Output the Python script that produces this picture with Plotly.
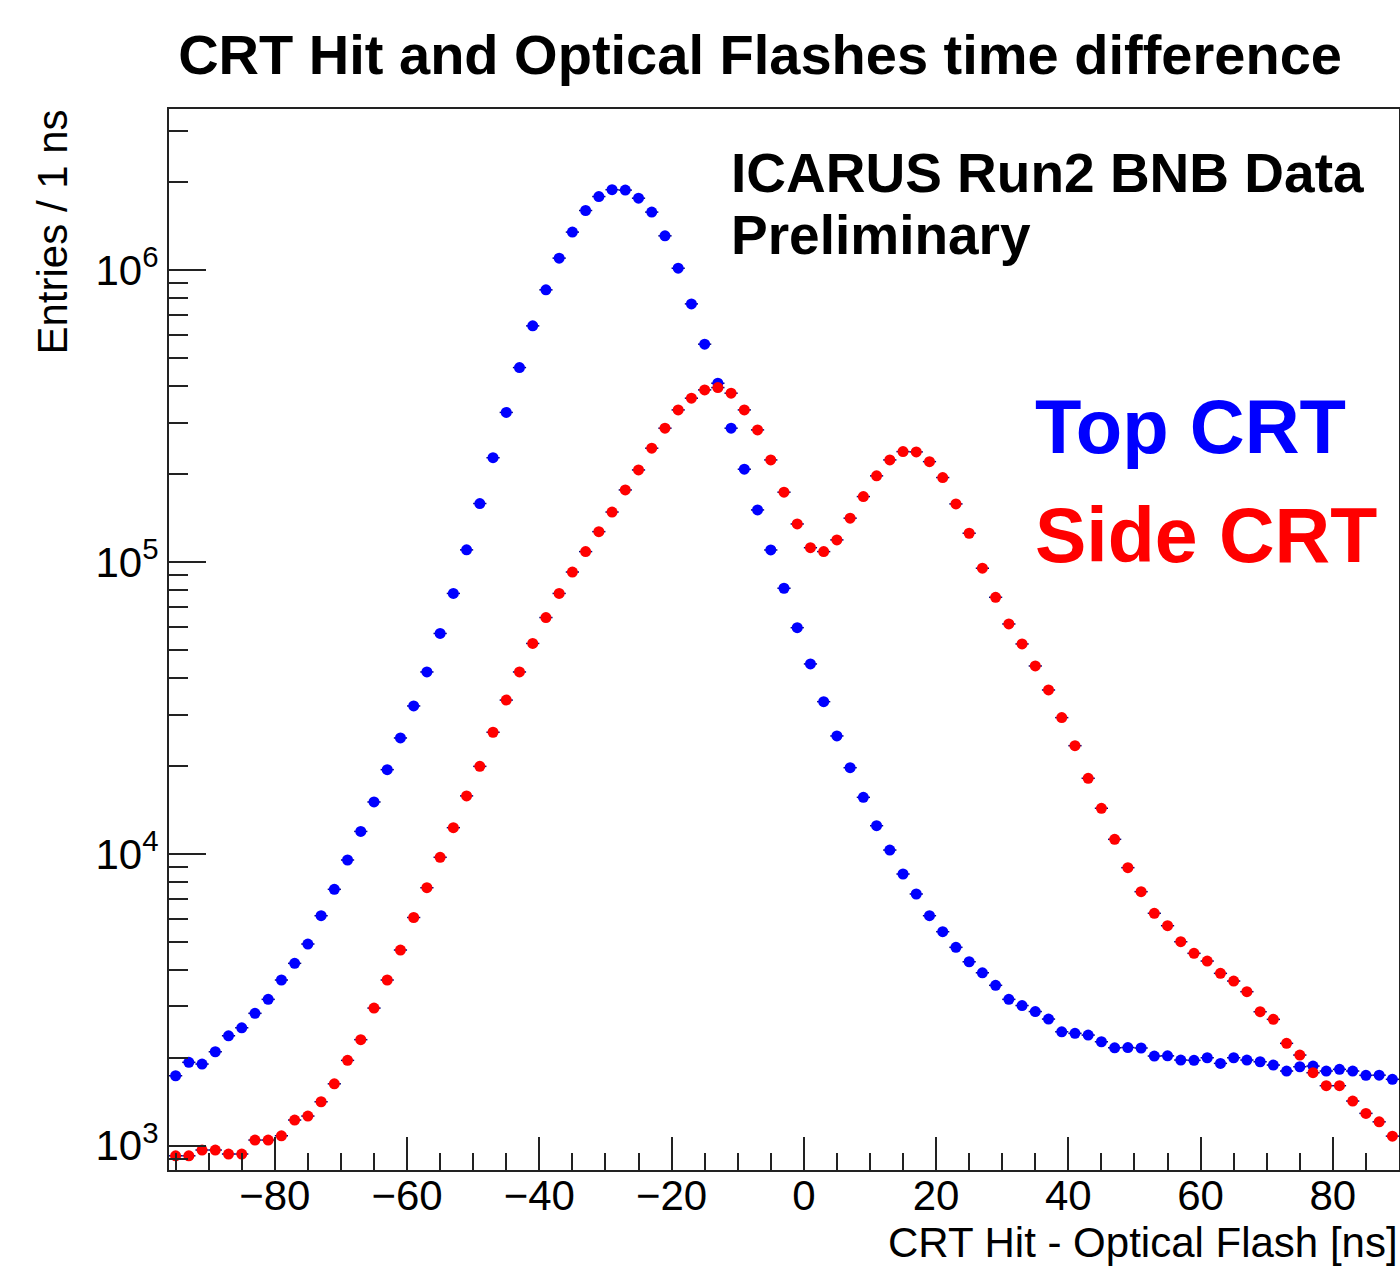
import plotly.graph_objects as go

# Bin centres (2 ns bins) in ns
bin_centers = [-95, -93, -91, -89, -87, -85, -83, -81, -79, -77, -75, -73, -71, -69, -67, -65,
               -63, -61, -59, -57, -55, -53, -51, -49, -47, -45, -43, -41, -39, -37, -35, -33,
               -31, -29, -27, -25, -23, -21, -19, -17, -15, -13, -11, -9, -7, -5, -3, -1,
               1, 3, 5, 7, 9, 11, 13, 15, 17, 19, 21, 23, 25, 27, 29, 31, 33, 35, 37, 39, 41,
               43, 45, 47, 49, 51, 53, 55, 57, 59, 61, 63, 65, 67, 69, 71, 73, 75, 77, 79, 81,
               83, 85, 87, 89]

top_crt = [1737, 1931, 1905, 2099, 2381, 2536, 2842, 3173, 3696, 4215, 4909, 6137, 7557, 9524,
           11930, 15050, 19420, 24930, 32090, 41960, 56840, 77940, 109900, 158400, 227300,
           324900, 462800, 643000, 854300, 1097000, 1347000, 1597000, 1783000, 1882000,
           1876000, 1760000, 1577000, 1308000, 1013000, 764700, 556600, 409000, 286900,
           207600, 150600, 109800, 81200, 59500,
           44700, 33200, 25330, 19720, 15610, 12480, 10300, 8527, 7284, 6137, 5410, 4783,
           4268, 3913, 3544, 3173, 3022, 2882, 2716, 2457, 2427, 2394, 2271, 2166, 2170,
           2162, 2029, 2032, 1966, 1962, 2002, 1915, 2002, 1966, 1940, 1890, 1803, 1865,
           1875, 1803, 1827, 1803, 1743, 1745, 1689]

side_crt = [924, 924, 967, 967, 937, 937, 1046, 1046, 1082, 1225, 1264, 1415, 1630, 1961, 2309,
            2962, 3696, 4682, 6051, 7653, 9728, 12290, 15790, 19930, 26080, 33610, 41960,
            52530, 64450, 77940, 92280, 108400, 126900, 148100, 176300, 206400, 245000,
            286900, 331400, 363500, 388100, 395200, 378100, 331400, 283100, 223400, 173200,
            134800,
            111800, 108400, 118900, 141100, 167300, 197000, 223400, 238500, 238000, 220400,
            194400, 157900, 125300, 95080, 75610, 61260, 52330, 43990, 36400, 29270, 23460,
            18140, 14320, 11210, 8965, 7418, 6255, 5672, 4999, 4561, 4292, 3895, 3666, 3371,
            2878, 2710, 2243, 2045, 1779, 1606, 1606, 1423, 1291, 1208, 1079]

x_major_ticks = [-80, -60, -40, -20, 0, 20, 40, 60, 80]
y_major_ticks = [1e3, 1e4, 1e5, 1e6]
y_major_text = ["10<sup>3</sup>", "10<sup>4</sup>", "10<sup>5</sup>", "10<sup>6</sup>"]
y_minor_ticks = [900, 2e3, 3e3, 4e3, 5e3, 6e3, 7e3, 8e3, 9e3,
                 2e4, 3e4, 4e4, 5e4, 6e4, 7e4, 8e4, 9e4,
                 2e5, 3e5, 4e5, 5e5, 6e5, 7e5, 8e5, 9e5,
                 2e6, 3e6]

FONT = "Liberation Sans, Arial, Helvetica, sans-serif"

fig = go.Figure()

for name, vals, col in [("Top CRT", top_crt, "#0000FF"), ("Side CRT", side_crt, "#FF0000")]:
    fig.add_trace(go.Scatter(
        x=bin_centers, y=vals, mode="markers", name=name,
        marker=dict(symbol="circle", size=11, color=col, line=dict(width=0)),
        error_x=dict(type="constant", value=1, thickness=1.5, width=0, color="#00007f"),
        showlegend=False,
    ))

fig.update_layout(
    width=1400, height=1266,
    margin=dict(l=169, r=1, t=109, b=96, autoexpand=False),
    paper_bgcolor="white", plot_bgcolor="white",
    font=dict(family=FONT, color="black", size=42),
    title=dict(text="<b>CRT Hit and Optical Flashes time difference</b>",
               x=0.5429, xanchor="center", xref="container",
               y=1 - 54 / 1266, yanchor="middle", yref="container",
               automargin=False,
               font=dict(family=FONT, size=56, color="black")),
)

fig.update_xaxes(
    range=[-96, 90], showgrid=False, zeroline=False, automargin=False,
    showline=True, linecolor="#222", linewidth=2, mirror=True,
    tickmode="array", tickvals=x_major_ticks,
    ticks="inside", ticklen=33, tickwidth=2, tickcolor="#222",
    tickfont=dict(family=FONT, size=42, color="black"),
    ticklabelstandoff=-12,
    minor=dict(dtick=5, tick0=0, ticks="inside", ticklen=17, tickwidth=2, tickcolor="#222"),
)

fig.update_yaxes(
    type="log", range=[2.917, 6.551], showgrid=False, zeroline=False, automargin=False,
    showline=True, linecolor="#222", linewidth=2, mirror=True,
    tickmode="array", tickvals=y_major_ticks, ticktext=y_major_text,
    ticks="inside", ticklen=37, tickwidth=2, tickcolor="#222",
    tickfont=dict(family=FONT, size=42, color="black"),
    minor=dict(tickmode="array", tickvals=y_minor_ticks, ticks="inside",
               ticklen=19, tickwidth=2, tickcolor="#222"),
)

# Axis titles
fig.add_annotation(text="CRT Hit - Optical Flash [ns]", xref="paper", yref="paper",
                   x=1, xanchor="right", y=(1170 - 1242) / 1061, yanchor="middle",
                   showarrow=False, borderpad=0,
                   font=dict(family=FONT, size=42, color="black"))
fig.add_annotation(text="Entries / 1 ns", xref="paper", yref="paper",
                   x=(52 - 169) / 1230, xanchor="center", y=1.0, yanchor="top",
                   textangle=-90, showarrow=False, borderpad=0,
                   font=dict(family=FONT, size=42, color="black"))

# Labels
fig.add_annotation(text="<b>ICARUS Run2 BNB Data</b>", xref="paper", yref="paper",
                   x=(730 - 169) / 1230, xanchor="left", y=(1170 - 173) / 1061, yanchor="middle",
                   showarrow=False, borderpad=0,
                   font=dict(family=FONT, size=55, color="black"))
fig.add_annotation(text="<b>Preliminary</b>", xref="paper", yref="paper",
                   x=(730 - 169) / 1230, xanchor="left", y=(1170 - 235) / 1061, yanchor="middle",
                   showarrow=False, borderpad=0,
                   font=dict(family=FONT, size=55, color="black"))
fig.add_annotation(text="<b>Top CRT</b>", xref="paper", yref="paper",
                   x=(1034 - 169) / 1230, xanchor="left", y=(1170 - 427) / 1061, yanchor="middle",
                   showarrow=False, borderpad=0,
                   font=dict(family=FONT, size=76, color="#0000FF"))
fig.add_annotation(text="<b>Side CRT</b>", xref="paper", yref="paper",
                   x=(1034 - 169) / 1230, xanchor="left", y=(1170 - 535) / 1061, yanchor="middle",
                   showarrow=False, borderpad=0,
                   font=dict(family=FONT, size=77, color="#FF0000"))

fig.write_html("out.html",
               config={"displayModeBar": False},
               post_script="document.body.style.margin='0px';"
                           "document.body.style.overflow='hidden';")
